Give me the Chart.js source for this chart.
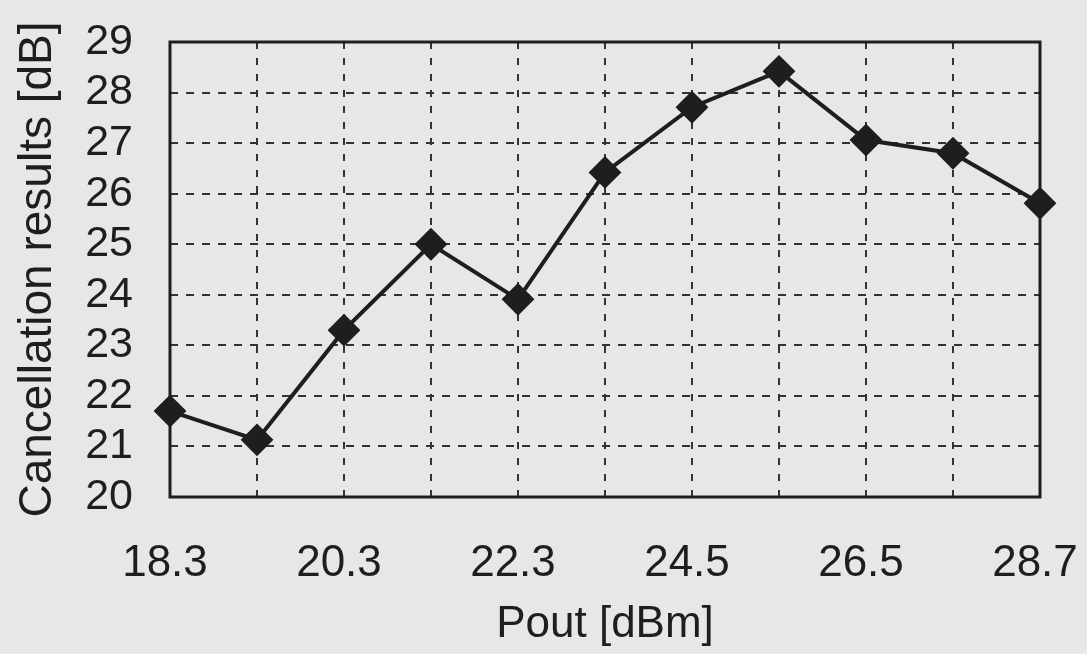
<!DOCTYPE html>
<html>
<head>
<meta charset="utf-8">
<script src="https://cdn.jsdelivr.net/npm/chart.js@4.4.1/dist/chart.umd.min.js"></script>
<style>
  html, body { margin: 0; padding: 0; background: #e7e7e5; }
  #wrap { width: 1087px; height: 654px; position: relative; }
</style>
</head>
<body>
<div id="wrap"><canvas id="c" width="1087" height="654"></canvas></div>
<script>
// Data
const categories = ['18.3', '19.3', '20.3', '21.3', '22.3', '23.4', '24.5', '25.5', '26.5', '27.6', '28.7'];
const cancellation = [21.70, 21.13, 23.30, 25.00, 23.91, 26.42, 27.71, 28.42, 27.06, 26.80, 25.81];
const yTicks = [20, 21, 22, 23, 24, 25, 26, 27, 28, 29];
const xTitle = 'Pout [dBm]';
const yTitle = 'Cancellation results [dB]';

const ink = '#1e1e1e';
const fontFamily = '"Liberation Sans", Arial, Helvetica, sans-serif';

const frame = {
  id: 'frame',
  beforeDatasetsDraw(chart) {
    const {ctx, chartArea: a} = chart;
    ctx.save();
    ctx.strokeStyle = ink;
    ctx.lineWidth = 3;
    ctx.setLineDash([]);
    ctx.strokeRect(a.left, a.top, a.right - a.left, a.bottom - a.top);
    ctx.restore();
  }
};

new Chart(document.getElementById('c'), {
  type: 'line',
  data: {
    labels: categories,
    datasets: [{
      data: cancellation,
      borderColor: ink,
      borderWidth: 4,
      backgroundColor: ink,
      pointStyle: 'rectRot',
      pointRadius: 15,
      pointBorderWidth: 2,
      pointBackgroundColor: ink,
      pointBorderColor: ink,
      tension: 0,
      clip: false
    }]
  },
  options: {
    responsive: false,
    animation: false,
    events: [],
    layout: { padding: { left: 0, right: 47, top: 42, bottom: 0 } },
    plugins: { legend: { display: false }, tooltip: { enabled: false } },
    scales: {
      x: {
        type: 'category',
        offset: false,
        afterFit(s) { s.height = 157; s.paddingLeft = 0; s.paddingRight = 0; },
        grid: { color: '#333333', lineWidth: 2, drawTicks: false },
        border: { display: false, dash: [7, 9] },
        ticks: {
          autoSkip: false,
          maxRotation: 0,
          padding: 40,
          labelOffset: -5,
          color: ink,
          font: { family: fontFamily, size: 44 },
          callback(v, i) { return i % 2 === 0 ? categories[i] : ''; }
        },
        title: {
          display: true,
          text: xTitle,
          color: ink,
          font: { family: fontFamily, size: 44 },
          padding: { top: 0, bottom: 3 }
        }
      },
      y: {
        min: yTicks[0],
        max: yTicks[yTicks.length - 1],
        afterFit(s) { s.width = 170; s.paddingTop = 0; s.paddingBottom = 0; },
        afterBuildTicks(s) { s.ticks = yTicks.map(v => ({ value: v })); },
        grid: { color: '#333333', lineWidth: 2, drawTicks: false },
        border: { display: false, dash: [8, 8] },
        ticks: {
          autoSkip: false,
          padding: 37,
          color: ink,
          font: { family: fontFamily, size: 43 }
        },
        title: {
          display: true,
          text: yTitle,
          color: ink,
          font: { family: fontFamily, size: 46 },
          padding: { top: 11, bottom: 0 }
        }
      }
    }
  },
  plugins: [frame]
});
</script>
</body>
</html>
